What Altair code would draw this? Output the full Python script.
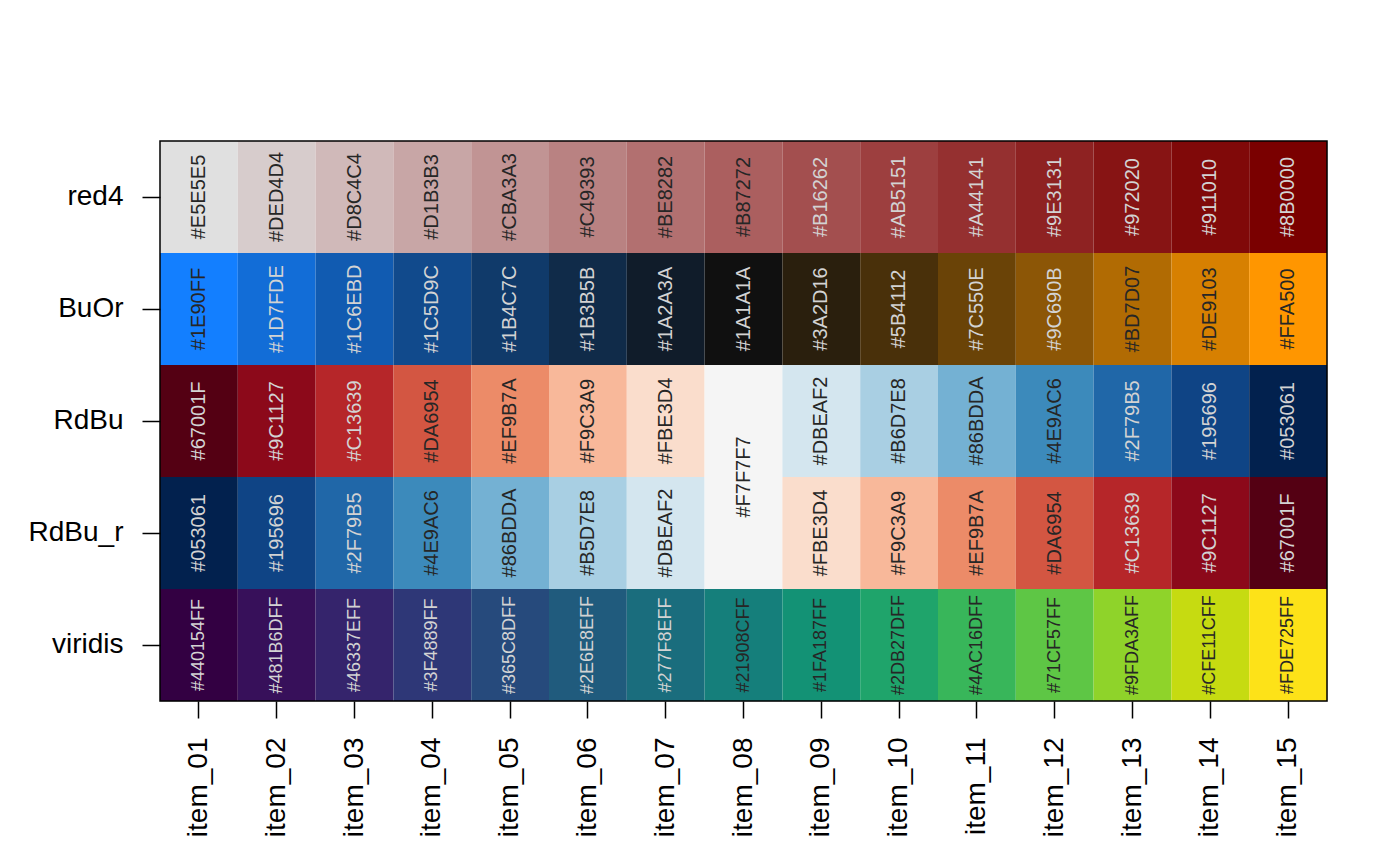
import altair as alt
import pandas as pd

rows = ["red4", "BuOr", "RdBu", "RdBu_r", "viridis"]
items = ["item_01", "item_02", "item_03", "item_04", "item_05", "item_06", "item_07",
         "item_08", "item_09", "item_10", "item_11", "item_12", "item_13", "item_14", "item_15"]

red4 = ["#E5E5E5", "#DED4D4", "#D8C4C4", "#D1B3B3", "#CBA3A3", "#C49393", "#BE8282", "#B87272",
        "#B16262", "#AB5151", "#A44141", "#9E3131", "#972020", "#911010", "#8B0000"]
buor = ["#1E90FF", "#1D7FDE", "#1C6EBD", "#1C5D9C", "#1B4C7C", "#1B3B5B", "#1A2A3A", "#1A1A1A",
        "#3A2D16", "#5B4112", "#7C550E", "#9C690B", "#BD7D07", "#DE9103", "#FFA500"]
rdbu = ["#67001F", "#9C1127", "#C13639", "#DA6954", "#EF9B7A", "#F9C3A9", "#FBE3D4", "#F7F7F7",
        "#DBEAF2", "#B6D7E8", "#86BDDA", "#4E9AC6", "#2F79B5", "#195696", "#053061"]
rdbu_r = ["#053061", "#195696", "#2F79B5", "#4E9AC6", "#86BDDA", "#B5D7E8", "#DBEAF2", "#F7F7F7",
          "#FBE3D4", "#F9C3A9", "#EF9B7A", "#DA6954", "#C13639", "#9C1127", "#67001F"]
viridis = ["#440154FF", "#481B6DFF", "#46337EFF", "#3F4889FF", "#365C8DFF", "#2E6E8EFF", "#277F8EFF",
           "#21908CFF", "#1FA187FF", "#2DB27DFF", "#4AC16DFF", "#71CF57FF", "#9FDA3AFF", "#CFE11CFF",
           "#FDE725FF"]

palettes = [red4, buor, rdbu, rdbu_r, viridis]

GAMMA = 1.22  # the reference renders colours slightly darker / more saturated


def channels(hexcode):
    h = hexcode.lstrip("#")[:6]
    return [int(h[i:i + 2], 16) / 255 for i in (0, 2, 4)]


def luminance(hexcode):
    vals = [c / 12.92 if c <= 0.03928 else ((c + 0.055) / 1.055) ** 2.4 for c in channels(hexcode)]
    return 0.2126 * vals[0] + 0.7152 * vals[1] + 0.0722 * vals[2]


def rendered(hexcode):
    return "#" + "".join(f"{round(255 * c ** GAMMA):02X}" for c in channels(hexcode))


records = []
for r, (name, pal) in enumerate(zip(rows, palettes)):
    for c, (item, lab) in enumerate(zip(items, pal)):
        below = palettes[r + 1][c] if r + 1 < len(palettes) else None
        above = palettes[r - 1][c] if r > 0 else None
        if below is not None and below == lab:
            kind = "merged"
        elif above is not None and above == lab:
            kind = "skip"
        else:
            kind = "normal"
        records.append({
            "row": name,
            "item": item,
            "label": lab,
            "fill": rendered(lab),
            "tcol": "#262626" if luminance(lab) > 0.215 else "#D3D3D3",
            "kind": kind,
        })

df = pd.DataFrame(records)

W, H = 1167, 560
band_h = H / len(rows)

xs = alt.Scale(domain=items, paddingInner=0, paddingOuter=0)
ys = alt.Scale(domain=rows, paddingInner=0, paddingOuter=0)

base = alt.Chart(df)

rects = base.mark_rect(strokeWidth=0).encode(
    x=alt.X("item:N", scale=xs, sort=items, title=None,
            axis=alt.Axis(labelAngle=270, labelFontSize=28, labelFont="Liberation Sans",
                          labelColor="black", tickColor="black", tickSize=17, tickWidth=1.5,
                          labelPadding=19, domain=False, labelAlign="right",
                          labelBaseline="middle")),
    y=alt.Y("row:N", scale=ys, sort=rows, title=None,
            axis=alt.Axis(labelFontSize=28, labelFont="Liberation Sans", labelColor="black",
                          tickColor="black", tickSize=18, tickWidth=1.5, labelPadding=19,
                          domain=False)),
    fill=alt.Fill("fill:N", scale=None),
)

text_common = dict(angle=270, align="center", baseline="middle", font="Liberation Sans")

labels = base.transform_filter(alt.datum.kind == "normal").transform_calculate(
    fs="length(datum.label) > 7 ? 18 : 20"
).mark_text(**text_common).encode(
    x=alt.X("item:N", scale=xs, sort=items),
    y=alt.Y("row:N", scale=ys, sort=rows),
    text="label:N",
    color=alt.Color("tcol:N", scale=None),
    size=alt.Size("fs:Q", scale=None),
)

merged = base.transform_filter(alt.datum.kind == "merged").mark_text(
    dx=-band_h / 2, fontSize=20, **text_common
).encode(
    x=alt.X("item:N", scale=xs, sort=items),
    y=alt.Y("row:N", scale=ys, sort=rows),
    text="label:N",
    color=alt.Color("tcol:N", scale=None),
)

border = alt.Chart(pd.DataFrame({"b": [0]})).mark_rect(
    fill=None, stroke="black", strokeWidth=1.5
).encode(x=alt.value(0), x2=alt.value(W), y=alt.value(0), y2=alt.value(H))

chart = alt.layer(rects, labels, merged, border).properties(
    width=W, height=H,
    autosize=alt.AutoSizeParams(type="none"),
    padding={"left": 160, "top": 141, "right": 73, "bottom": 164},
).configure_view(
    stroke=None
).configure(background="white")

chart.save("out.html", embed_options={"renderer": "svg", "actions": False})
